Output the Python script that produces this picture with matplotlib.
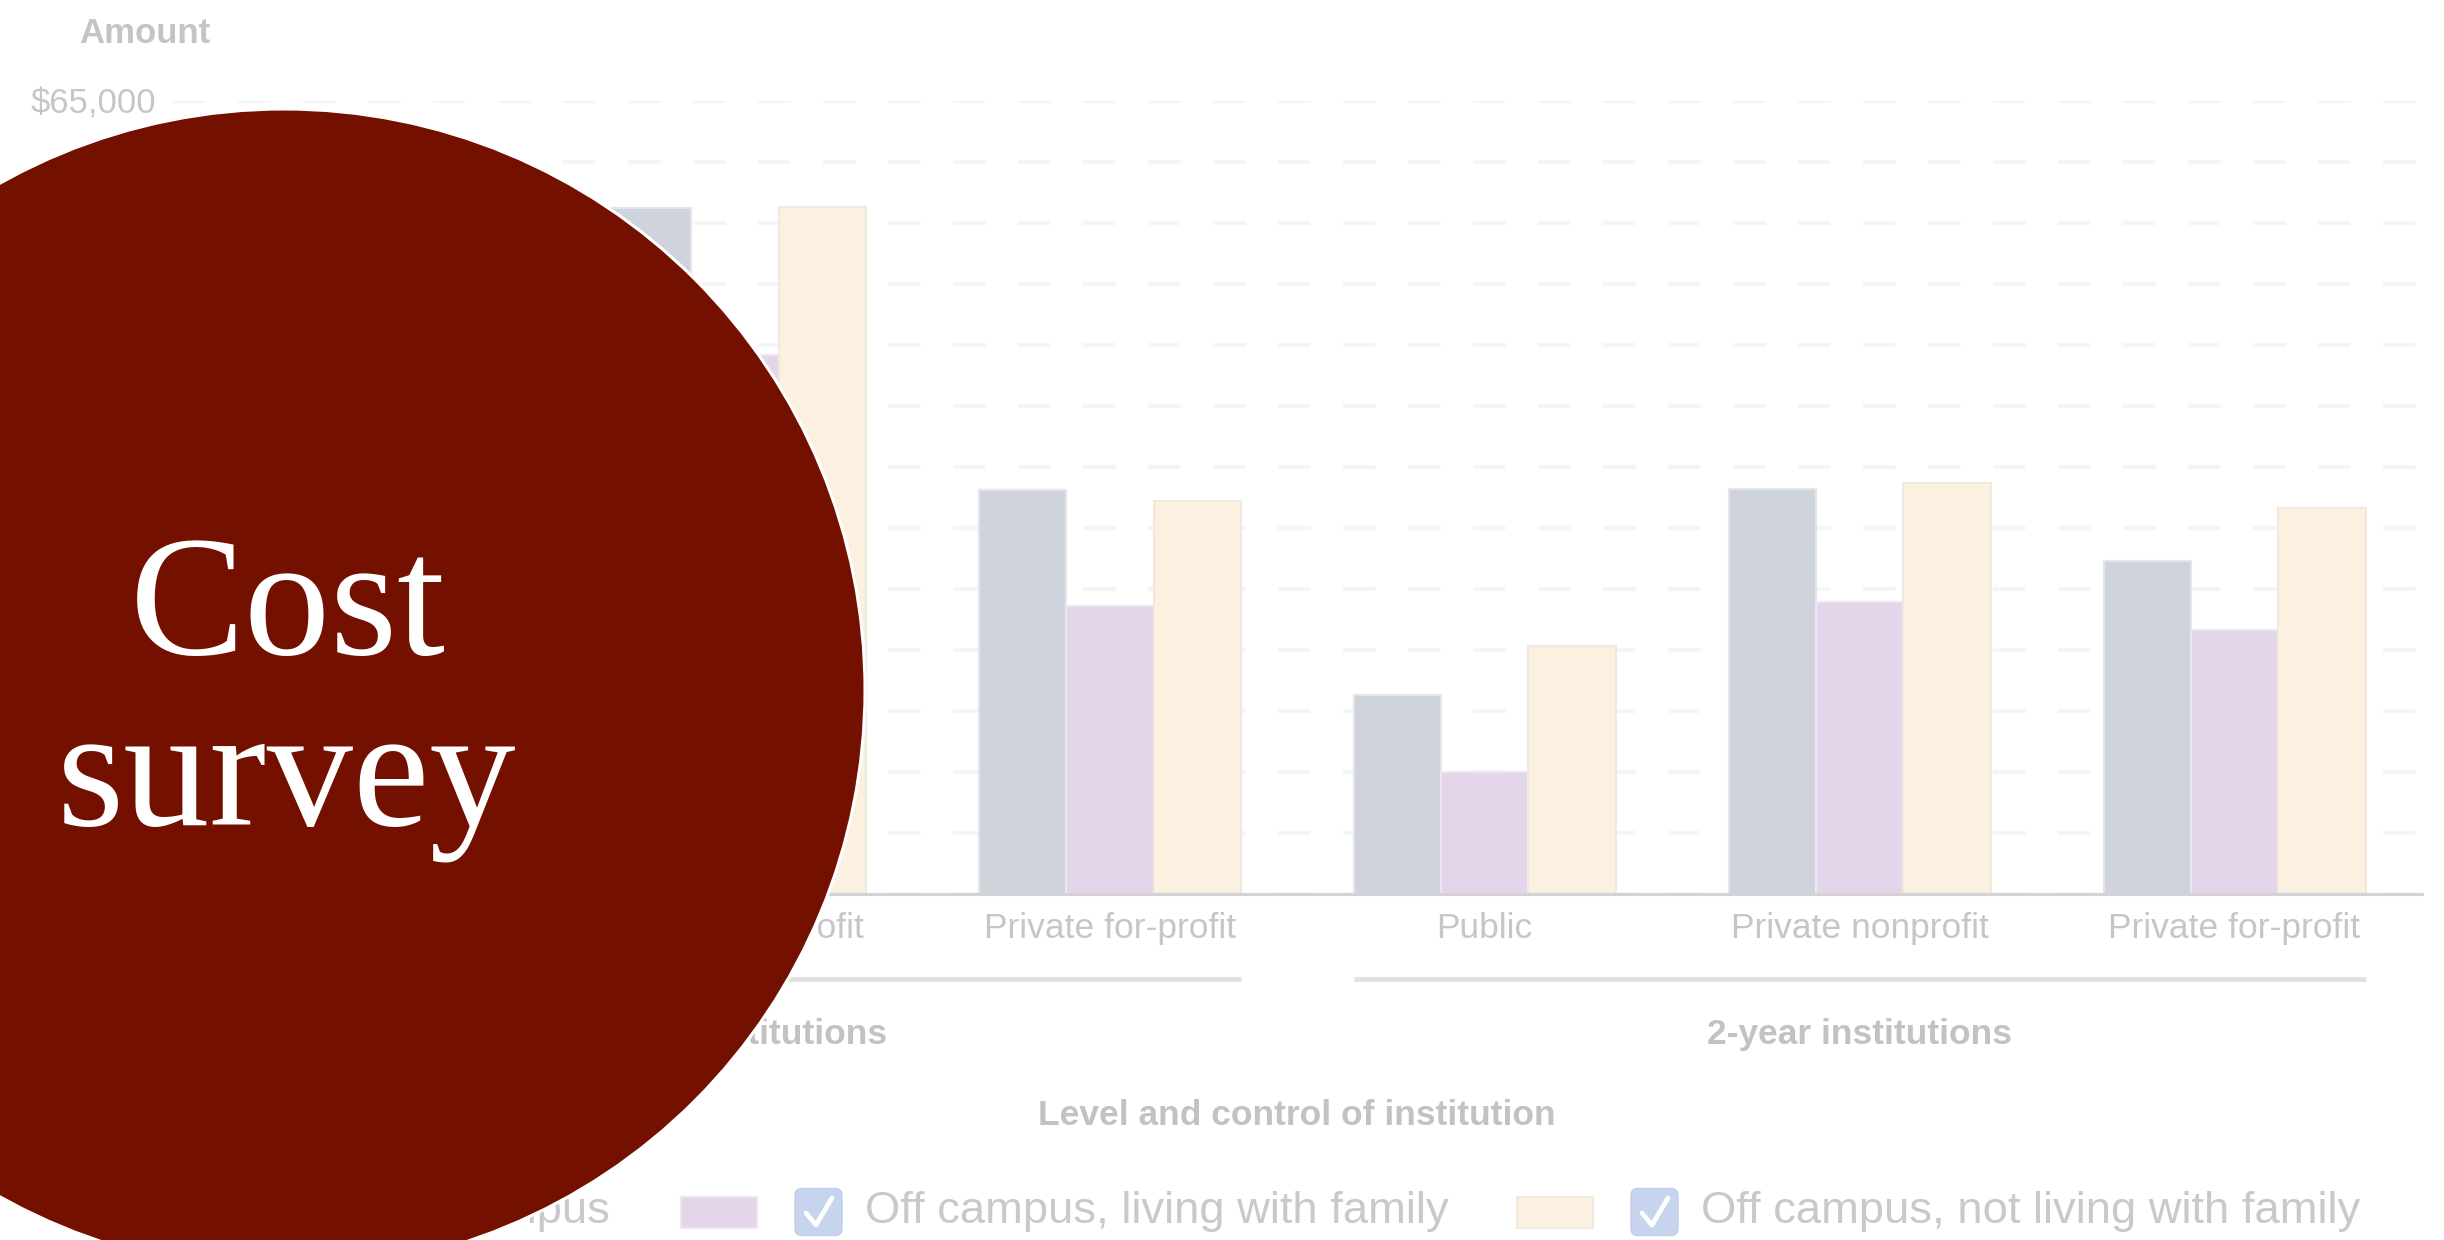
import numpy as np
import matplotlib
matplotlib.use("Agg")
import matplotlib.pyplot as plt
from matplotlib.patches import Circle, Rectangle, FancyBboxPatch

# data (4-year public group is hidden under the circle)
categories = ["Public", "Private nonprofit", "Private for-profit",
              "Public", "Private nonprofit", "Private for-profit"]
levels = ["4-year institutions", "2-year institutions"]
level_size = [3, 3]
series_names = ["On campus", "Off campus, living with family",
                "Off campus, not living with family"]
on_campus = [25900, 56200, 33100, 16300, 33200, 27300]
with_family = [13500, 44200, 23600, 10000, 23900, 21600]
not_with_family = [26700, 56300, 32200, 20300, 33700, 31600]
yticks = np.arange(0, 65001, 5000)

series = [on_campus, with_family, not_with_family]
colors = ["#CFD3DC", "#E4D6EA", "#FCF1E1"]
edges = ["#E3E5EA", "#EDE5F0", "#EFE9DF"]

matplotlib.rcParams['font.family'] = ['Liberation Sans', 'DejaVu Sans']
matplotlib.rcParams['lines.scale_dashes'] = False

W, H = 2444, 1240
fig = plt.figure(figsize=(W/100, H/100), dpi=100)
ax = fig.add_axes([172.6/W, 1 - 894/H, (2422 - 172.6)/W, 793/H])

txt = "#C6C6C6"
x = np.arange(len(categories))
bw = 0.233
for k, vals in enumerate(series):
    ax.bar(x + (k - 1)*bw, vals, bw, color=colors[k], edgecolor=edges[k],
           linewidth=1.5, zorder=2)

ax.set_xlim(-0.5, len(categories) - 0.5)
ax.set_ylim(0, yticks[-1])
ax.set_yticks(yticks)
# only the top label shows, the rest sit under the circle
ax.set_yticklabels(["${:,}".format(v) if v == yticks[-1] else ""
                    for v in yticks])
ax.set_xticks([])
ax.tick_params(axis='y', length=0, pad=12, labelsize=25, labelcolor=txt)
ax.yaxis.grid(True, color="#F4F5F5", linewidth=2.9, dashes=(23.4, 23.4))
ax.set_axisbelow(True)
for s in ["top", "right", "left"]:
    ax.spines[s].set_visible(False)
ax.spines["bottom"].set_color("#D3D3D6")
ax.spines["bottom"].set_linewidth(2.2)
ax.spines["bottom"].set_zorder(3)

tr = ax.get_xaxis_transform()
for i, c in enumerate(categories):
    ax.text(i, -0.0555, c, transform=tr, ha="center", va="baseline",
            fontsize=25.5, color=txt)

start = 0
for lev, n in zip(levels, level_size):
    x0 = start - 1.5*bw
    x1 = start + n - 1 + 1.5*bw
    ax.plot([x0, x1], [-0.1072, -0.1072], transform=tr, color="#E2E2E2",
            linewidth=3.6, clip_on=False, solid_capstyle="butt")
    ax.text((x0 + x1)/2, -0.1892, lev, transform=tr, ha="center",
            va="baseline", fontsize=25.5, fontweight="bold", color="#C2C2C2")
    start += n

ax.text(2.5, -0.2913, "Level and control of institution", transform=tr,
        ha="center", va="baseline", fontsize=25.5, fontweight="bold",
        color="#C2C2C2")
fig.text(145/W, 1 - 43/H, "Amount", ha="center", va="baseline",
         fontsize=25, fontweight="bold", color="#C4C4C4")

# overlay in pixel units: legend, circle, title
ov = fig.add_axes([0, 0, 1, 1], zorder=5)
ov.set_xlim(0, W)
ov.set_ylim(H, 0)
ov.axis("off")

swatch_x = [194, 681, 1517]
ly = 1212
for k, name in enumerate(series_names):
    sx = swatch_x[k]
    ov.add_patch(Rectangle((sx, ly - 15.5), 76, 31, facecolor=colors[k],
                           edgecolor=edges[k], linewidth=1.5))
    cx = sx + 114
    ov.add_patch(FancyBboxPatch((cx, ly - 23.5), 47, 47,
                                boxstyle="round,pad=0,rounding_size=7",
                                facecolor="#C7D4EE", edgecolor="#C0CDE8",
                                linewidth=1))
    ov.plot([cx + 11, cx + 21, cx + 37], [ly + 1, ly + 13, ly - 14],
            color="white", linewidth=3.4, solid_capstyle="round")
    ov.text(cx + 70, ly, name, ha="left", va="center", fontsize=32.7,
            color="#C9C9C9")

ov.add_patch(Circle((284, 690), 581, facecolor="#741000", edgecolor="white",
                    linewidth=2.2, zorder=10))
ov.text(287.6, 654, "Cost", ha="center", va="baseline", fontsize=124,
        family="Liberation Serif", color="white", zorder=11)
ov.text(287, 825, "survey", ha="center", va="baseline", fontsize=124,
        family="Liberation Serif", color="white", zorder=11)

fig.savefig("out.png", dpi=100, facecolor="white")
